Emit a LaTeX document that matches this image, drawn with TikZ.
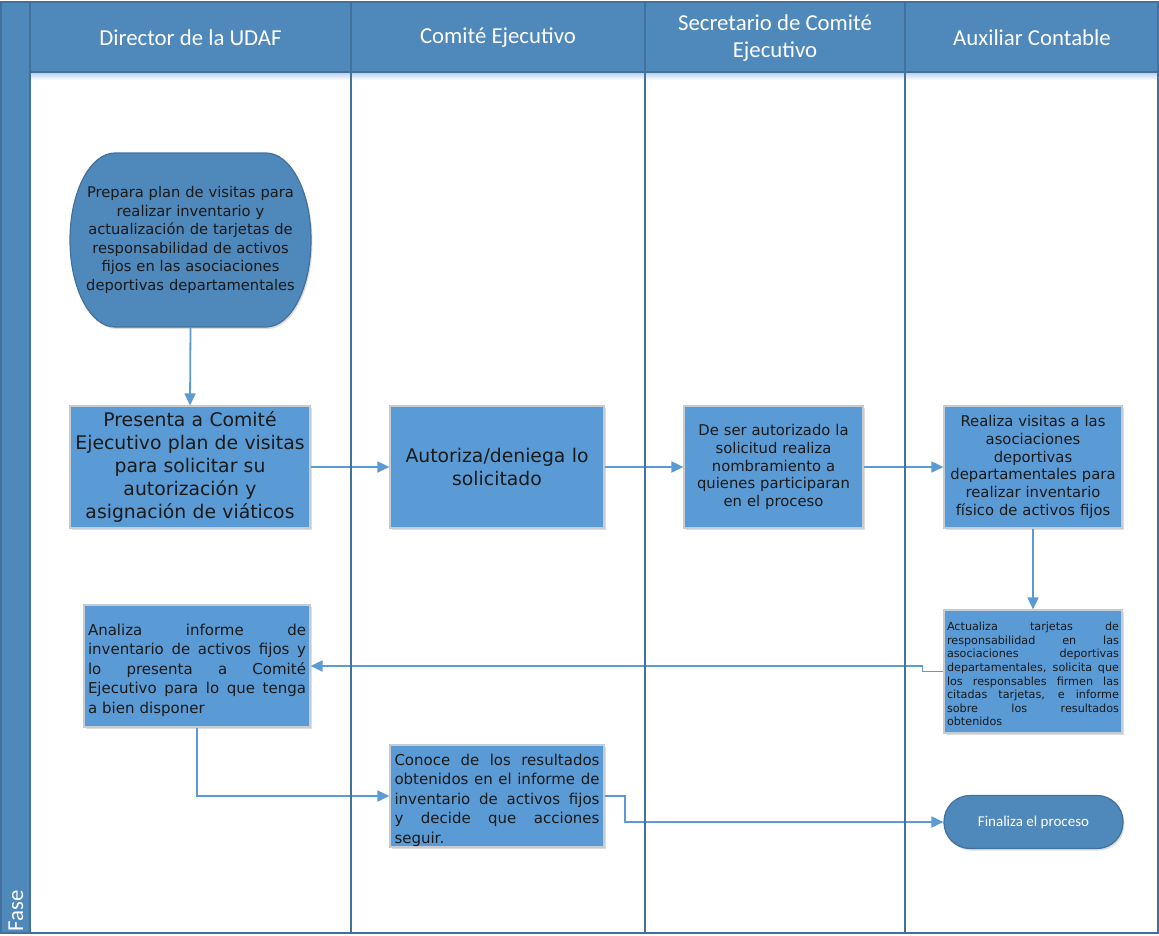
\documentclass[tikz,border=0pt]{standalone}
\usepackage{fontspec}
\setmainfont{DejaVu Sans}
\newfontfamily\hdrfont{Carlito}
\usetikzlibrary{arrows.meta,shadows}

\definecolor{lanehdr}{HTML}{4F88BB}
\definecolor{laneline}{HTML}{41719C}
\definecolor{boxfill}{HTML}{5B9BD5}
\definecolor{boxedge}{HTML}{C6CCD4}
\definecolor{txt}{HTML}{1A1A1A}
\definecolor{flow}{HTML}{5B9BD5}
\definecolor{hdrglow}{HTML}{B4CCE6}

% fully justified line of a paragraph, and its last (left aligned) line
\newcommand{\jline}[1]{\par\hbox to \hsize{\spaceskip=0.3333em plus 1fil\relax #1}}
\newcommand{\jlast}[1]{\par\hbox to \hsize{#1\hfil}}

\tikzset{
  lanerule/.style={draw=laneline, line width=1.6pt},
  hdrtext/.style={text=white, font=\hdrfont\fontsize{22.8}{27}\selectfont, align=center, inner sep=0pt},
  stepbox/.style={draw=boxedge, line width=1.2pt, fill=boxfill, text=txt, inner sep=0pt,
    align=center, minimum height=122pt,
    drop shadow={shadow xshift=1.5pt, shadow yshift=-2pt, opacity=.22, fill=black!60}},
  bigtxt/.style={font=\fontsize{18.8}{23}\selectfont},
  midtxt/.style={font=\fontsize{14.8}{17.8}\selectfont},
  bodytxt/.style={font=\fontsize{15}{19.5}\selectfont},
  smalltxt/.style={font=\fontsize{11.2}{13.6}\selectfont},
  flowarrow/.style={draw=flow, line width=1.8pt, -{Triangle[length=12pt,width=11pt]}},
}

\begin{document}
\begin{tikzpicture}[x=1pt,y=-1pt]
\useasboundingbox (0,0) rectangle (1159,935);

% lane header band, phase strip and the soft edge under the header
\fill[lanehdr] (0,2) rectangle (1159,72);
\fill[lanehdr] (0,2) rectangle (30,933);
\shade[top color=hdrglow, bottom color=white] (31,72) rectangle (1157,80);

% lane titles
\node[hdrtext] (h1) at (190.5,38) {Director de la UDAF};
\node[hdrtext] (h2) at (498,38) {Comité Ejecutivo};
\node[hdrtext] (h3) at (775,38) {Secretario de Comité\\Ejecutivo};
\node[hdrtext] (h4) at (1032,38) {Auxiliar Contable};
\node[hdrtext, rotate=90] (fase) at (16,911) {Fase};

% start shape with elliptical ends
\path[fill=lanehdr, draw=laneline, line width=1.2pt,
      drop shadow={shadow xshift=1.5pt, shadow yshift=-2pt, opacity=.22, fill=black!60}]
  (115,153) -- (266,153) arc[start angle=90, end angle=-90, x radius=45pt, y radius=87pt]
  -- (115,327) arc[start angle=270, end angle=90, x radius=45pt, y radius=87pt] -- cycle;
\node[inner sep=0pt, minimum width=241pt, minimum height=174pt, text width=226pt,
      align=center, text=txt, font=\fontsize{14.7}{18.6}\selectfont] (prep) at (190.5,240)
  {Prepara plan de visitas para\\realizar inventario y\\actualización de tarjetas de\\responsabilidad de activos\\fijos en las asociaciones\\deportivas departamentales};

% process steps
\node[stepbox, bigtxt, minimum width=240pt, text width=232pt] (pres) at (190,467)
  {Presenta a Comité\\Ejecutivo plan de visitas\\para solicitar su\\autorización y\\asignación de viáticos};
\node[stepbox, bigtxt, minimum width=214pt, text width=206pt] (aut) at (497,467)
  {Autoriza/deniega lo\\solicitado};
\node[stepbox, midtxt, minimum width=179pt, text width=172pt] (nomb) at (773.5,467)
  {De ser autorizado la\\solicitud realiza\\nombramiento a\\quienes participaran\\en el proceso};
\node[stepbox, midtxt, minimum width=178pt, text width=172pt] (visit) at (1033,467)
  {Realiza visitas a las\\asociaciones\\deportivas\\departamentales para\\realizar inventario\\físico de activos fijos};
\node[stepbox, smalltxt, minimum width=178pt, minimum height=123pt, text width=172pt, align=left] (actu) at (1033,671.5)
  {\jline{Actualiza tarjetas de}\jline{responsabilidad en las}\jline{asociaciones deportivas}\jline{departamentales, solicita que}\jline{los responsables firmen las}\jline{citadas tarjetas,  e informe}\jline{sobre los resultados}\jlast{obtenidos}};
\node[stepbox, bodytxt, minimum width=226pt, text width=218pt, align=left] (anal) at (197,666)
  {\jline{Analiza informe de}\jline{inventario de activos fijos y}\jline{lo presenta a Comité}\jline{Ejecutivo para lo que tenga}\jlast{a bien disponer}};
\node[stepbox, bodytxt, minimum width=214pt, minimum height=102pt, text width=205pt, align=left] (conoce) at (497,796)
  {\jline{Conoce de los resultados}\jline{obtenidos en el informe de}\jline{inventario de activos fijos}\jline{y decide que acciones}\jlast{seguir.}};
\node[fill=lanehdr, draw=laneline, line width=1.2pt, rounded corners=26pt, minimum width=179pt,
      minimum height=53pt, text=white, font=\hdrfont\fontsize{15}{18}\selectfont,
      drop shadow={shadow xshift=1.5pt, shadow yshift=-2pt, opacity=.22, fill=black!60}] (fin) at (1033.5,822)
  {Finaliza el proceso};

% flow connectors
\draw[flowarrow] (prep.south) -- (pres.north);
\draw[flowarrow] (pres.east) -- (aut.west);
\draw[flowarrow] (aut.east) -- (nomb.west);
\draw[flowarrow] (nomb.east) -- (visit.west);
\draw[flowarrow] (visit.south) -- (actu.north);
\draw[flowarrow] (actu.west) -- ++(-21,0) |- (anal.east);
\draw[flowarrow] (anal.south) |- (conoce.west);
\draw[flowarrow] (conoce.east) -- ++(20,0) |- (fin.west);

% lane borders
\draw[lanerule] (1,2) rectangle (1158,933);
\draw[lanerule] (30,72) -- (1158,72);
\foreach \lx in {30,351,645,905} \draw[lanerule] (\lx,2) -- (\lx,933);
\end{tikzpicture}
\end{document}
